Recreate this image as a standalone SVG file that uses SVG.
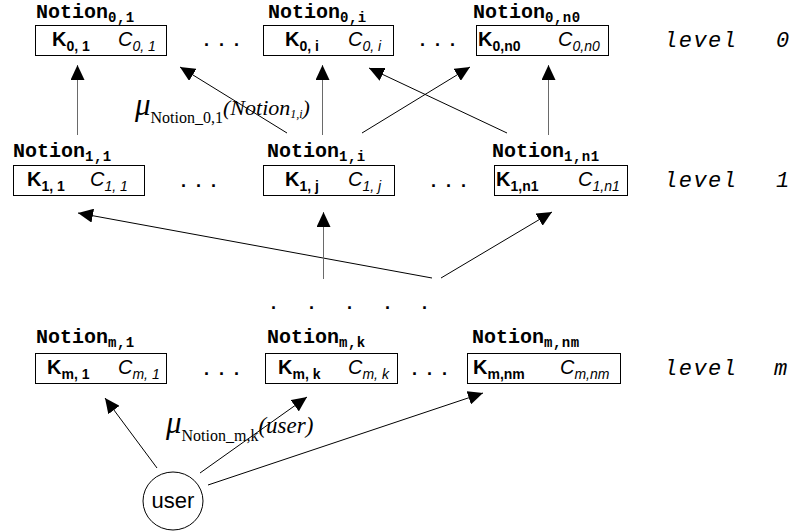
<svg xmlns="http://www.w3.org/2000/svg" width="795" height="532" viewBox="0 0 795 532">
  <style>
    .bg { fill: #ffffff; }
    .box { fill: #ffffff; stroke: #000000; stroke-width: 1; }
    .title { font-family: "Liberation Mono", "Courier New", monospace; font-weight: bold; font-size: 20px; fill: #000; }
    .title .sub { font-size: 14px; letter-spacing: 0.5px; }
    .k { font-family: "Liberation Sans", Arial, sans-serif; font-weight: bold; font-size: 20px; fill: #000; }
    .c { font-family: "Liberation Sans", Arial, sans-serif; font-style: italic; font-size: 20px; fill: #000; }
    .s { font-size: 14px; }
    .dots { font-family: "Liberation Sans", Arial, sans-serif; font-weight: bold; font-size: 18px; fill: #000; }
    .level { font-family: "Liberation Mono", "Courier New", monospace; font-style: italic; font-size: 22px; letter-spacing: 1.5px; fill: #000; }
    .mu { font-family: "Liberation Serif", "Times New Roman", serif; fill: #000; }
    .user { font-family: "Liberation Sans", Arial, sans-serif; font-size: 22px; fill: #000; }
    .edge { stroke: #000; stroke-width: 1; fill: none; marker-end: url(#head); }
    .vert { stroke: #6a6a6a; stroke-width: 1; fill: none; marker-end: url(#head); }
  </style>
  <defs>
    <marker id="head" markerUnits="userSpaceOnUse" markerWidth="15" markerHeight="14" refX="15" refY="7" orient="auto">
      <path d="M0,0 L15,7 L0,14 z" fill="#000"/>
    </marker>
  </defs>

  <rect class="bg" x="0" y="0" width="795" height="532"/>

  <!-- level 0 -->
  <g id="notion-0-1">
    <text class="title" x="36" y="18">Notion<tspan class="sub" dy="4">0,1</tspan></text>
    <rect class="box" x="35.5" y="25.5" width="131" height="30"/>
    <text class="k" x="52" y="46">K<tspan class="s" dy="5">0, 1</tspan></text>
    <text class="c" x="118" y="46">C<tspan class="s" dy="5">0, 1</tspan></text>
  </g>
  <g id="notion-0-i">
    <text class="title" x="268" y="18">Notion<tspan class="sub" dy="4">0,i</tspan></text>
    <rect class="box" x="263.5" y="25.5" width="130" height="30"/>
    <text class="k" x="285" y="46">K<tspan class="s" dy="5">0, i</tspan></text>
    <text class="c" x="348" y="46">C<tspan class="s" dy="5">0, i</tspan></text>
  </g>
  <g id="notion-0-n0">
    <text class="title" x="473" y="18">Notion<tspan class="sub" dy="4">0,n0</tspan></text>
    <rect class="box" x="476.5" y="25.5" width="132" height="30"/>
    <text class="k" x="478" y="46">K<tspan class="s" dy="5">0,n0</tspan></text>
    <text class="c" x="558" y="46">C<tspan class="s" dy="5">0,n0</tspan></text>
  </g>
  <text class="dots" x="204 219 234" y="46">...</text>
  <text class="dots" x="420 435 450" y="46">...</text>
  <text class="level" x="664" y="47">level<tspan x="776">0</tspan></text>

  <!-- level 1 -->
  <g id="notion-1-1">
    <text class="title" x="13" y="157">Notion<tspan class="sub" dy="4">1,1</tspan></text>
    <rect class="box" x="13.5" y="165.5" width="131" height="30"/>
    <text class="k" x="27" y="186">K<tspan class="s" dy="5">1, 1</tspan></text>
    <text class="c" x="90" y="186">C<tspan class="s" dy="5">1, 1</tspan></text>
  </g>
  <g id="notion-1-i">
    <text class="title" x="267" y="157">Notion<tspan class="sub" dy="4">1,i</tspan></text>
    <rect class="box" x="263.5" y="165.5" width="131" height="30"/>
    <text class="k" x="285" y="186">K<tspan class="s" dy="5">1, j</tspan></text>
    <text class="c" x="348" y="186">C<tspan class="s" dy="5">1, j</tspan></text>
  </g>
  <g id="notion-1-n1">
    <text class="title" x="492" y="157">Notion<tspan class="sub" dy="4">1,n1</tspan></text>
    <rect class="box" x="494.5" y="165.5" width="133" height="30"/>
    <text class="k" x="496" y="186">K<tspan class="s" dy="5">1,n1</tspan></text>
    <text class="c" x="578" y="186">C<tspan class="s" dy="5">1,n1</tspan></text>
  </g>
  <text class="dots" x="181 196 211" y="187">...</text>
  <text class="dots" x="431 446 461" y="187">...</text>
  <text class="level" x="664" y="187">level<tspan x="776">1</tspan></text>

  <!-- intermediate levels -->
  <text class="dots" x="271 309 347 385 422" y="309">.....</text>

  <!-- level m -->
  <g id="notion-m-1">
    <text class="title" x="36" y="343">Notion<tspan class="sub" dy="4">m,1</tspan></text>
    <rect class="box" x="35.5" y="353.5" width="131" height="30"/>
    <text class="k" x="47" y="374">K<tspan class="s" dy="5">m, 1</tspan></text>
    <text class="c" x="118" y="374">C<tspan class="s" dy="5">m, 1</tspan></text>
  </g>
  <g id="notion-m-k">
    <text class="title" x="267" y="343">Notion<tspan class="sub" dy="4">m,k</tspan></text>
    <rect class="box" x="265.5" y="353.5" width="132" height="30"/>
    <text class="k" x="278" y="374">K<tspan class="s" dy="5">m, k</tspan></text>
    <text class="c" x="348" y="374">C<tspan class="s" dy="5">m, k</tspan></text>
  </g>
  <g id="notion-m-nm">
    <text class="title" x="472" y="343">Notion<tspan class="sub" dy="4">m,nm</tspan></text>
    <rect class="box" x="467.5" y="353.5" width="153" height="30"/>
    <text class="k" x="473" y="374">K<tspan class="s" dy="5">m,nm</tspan></text>
    <text class="c" x="560" y="374">C<tspan class="s" dy="5">m,nm</tspan></text>
  </g>
  <text class="dots" x="204 219 234" y="375">...</text>
  <text class="dots" x="412 427 442" y="375">...</text>
  <text class="level" x="664" y="375">level<tspan x="774">m</tspan></text>

  <!-- user -->
  <g id="user">
    <ellipse cx="173" cy="501" rx="30" ry="29" fill="#fff" stroke="#000" stroke-width="1"/>
    <text class="user" x="173" y="508" text-anchor="middle">user</text>
  </g>

  <!-- membership labels -->
  <text class="mu" x="135" y="115"><tspan font-style="italic" font-size="31">μ</tspan><tspan font-size="16" dy="8">Notion_0,1</tspan><tspan font-style="italic" font-size="22" dy="-8">(Notion</tspan><tspan font-style="italic" font-size="12" dy="3">1,i</tspan><tspan font-style="italic" font-size="22" dy="-3">)</tspan></text>
  <text class="mu" x="166" y="433"><tspan font-style="italic" font-size="31">μ</tspan><tspan font-size="16" dy="8">Notion_m,k</tspan><tspan font-style="italic" font-size="23" dy="-8">(user)</tspan></text>

  <!-- connectors -->
  <g id="connectors">
    <line class="vert" x1="77.5" y1="135" x2="77.5" y2="65"/>
    <line class="edge" x1="287" y1="133" x2="180" y2="67"/>
    <line class="vert" x1="322.5" y1="135" x2="322.5" y2="65"/>
    <line class="edge" x1="362" y1="133" x2="470" y2="67"/>
    <line class="edge" x1="507" y1="133" x2="369" y2="68"/>
    <line class="vert" x1="548.5" y1="135" x2="548.5" y2="65"/>
    <line class="edge" x1="432" y1="278" x2="78" y2="213"/>
    <line class="vert" x1="323.5" y1="279" x2="323.5" y2="212"/>
    <line class="edge" x1="441" y1="278" x2="552" y2="212"/>
    <line class="edge" x1="157" y1="468" x2="105" y2="398"/>
    <line class="edge" x1="200" y1="473" x2="307" y2="397"/>
    <line class="edge" x1="208" y1="485" x2="483" y2="393"/>
  </g>
</svg>
